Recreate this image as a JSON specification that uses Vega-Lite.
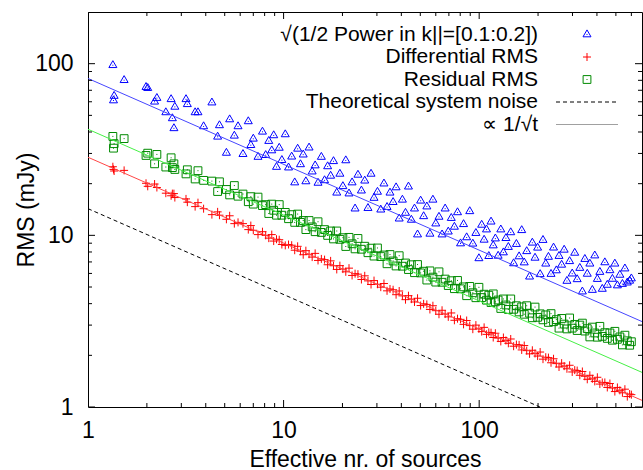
{
  "$schema": "https://vega.github.io/schema/vega-lite/v6.json",
  "width": 554,
  "height": 395,
  "autosize": {"type": "none"},
  "padding": {"left": 88, "top": 12, "right": 1, "bottom": 63},
  "background": "white",
  "config": {
    "view": {"stroke": "black", "strokeWidth": 1},
    "font": "Liberation Sans",
    "axis": {"labelFont": "Liberation Sans", "titleFont": "Liberation Sans", "labelFontSize": 23, "titleFontSize": 23, "titleFontWeight": "normal", "labelColor": "black", "titleColor": "black", "domain": false, "grid": false, "ticks": false},
    "legend": {"title": null, "orient": "none", "legendX": 488.5, "legendY": 12, "labelAlign": "right", "labelOffset": -59.5, "labelFontSize": 21, "labelFont": "Liberation Sans", "labelColor": "black", "labelLimit": 0, "symbolSize": 100, "symbolStrokeWidth": 1, "symbolFillColor": "transparent", "rowPadding": 0.5}
  },
  "datasets": {
    "pts": [
      {"n":1.34,"P":97.9,"D":25.1,"R":37.7},{"n":1.35,"P":61,"D":24.2,"R":32.2},{"n":1.36,"P":64.8,"D":23.7,"R":34.2},{"n":1.53,"P":80.1,"D":23.9,"R":36.6},
      {"n":1.98,"P":73,"D":20.1,"R":29.2},{"n":2.02,"P":72,"D":19.3,"R":30.1},{"n":2.19,"P":60,"D":19.9,"R":26.1},{"n":2.25,"P":63,"D":19.0,"R":29.6},
      {"n":2.5,"P":52,"D":17.6,"R":25.0},{"n":2.66,"P":62,"D":17.0,"R":28.3},{"n":2.7,"P":48,"D":17.5,"R":24.8},{"n":2.75,"P":42,"D":17.5,"R":26.1},
      {"n":2.78,"P":56,"D":16.6,"R":24.2},{"n":3.17,"P":62,"D":16.3,"R":22.8},{"n":3.22,"P":58,"D":15.6,"R":24.1},{"n":3.53,"P":52,"D":14.7,"R":21.3},
      {"n":3.65,"P":52.0,"D":15.5,"R":23.8},{"n":3.9,"P":43.1,"D":14.3,"R":20.9},{"n":4.3,"P":59.3,"D":13.2,"R":20.7},{"n":4.6,"P":37.5,"D":13.7,"R":18.0},
      {"n":4.7,"P":43.7,"D":13.1,"R":20.5},{"n":5.1,"P":30.2,"D":12.4,"R":18.5},{"n":5.3,"P":47.3,"D":13.0,"R":17.2},{"n":5.6,"P":38.0,"D":11.7,"R":19.5},
      {"n":5.85,"P":43.1,"D":11.9,"R":16.9},{"n":6.2,"P":29.7,"D":11.7,"R":17.4},{"n":6.6,"P":46.1,"D":10.8,"R":15.7},{"n":6.8,"P":33.5,"D":11.4,"R":16.8},
      {"n":7.0,"P":36.5,"D":10.7,"R":15.2},{"n":7.4,"P":28.6,"D":10.1,"R":16.7},{"n":7.8,"P":40.1,"D":10.5,"R":14.9},{"n":8.1,"P":29.3,"D":10.0,"R":15.1},
      {"n":8.4,"P":35.4,"D":9.63,"R":13.4},{"n":8.7,"P":31.2,"D":10.1,"R":15.2},{"n":8.9,"P":38.2,"D":9.26,"R":14.0},{"n":9.2,"P":25.0,"D":9.49,"R":13.1},
      {"n":9.5,"P":32.3,"D":9.43,"R":15.1},{"n":9.8,"P":27.4,"D":8.84,"R":13.1},{"n":10.2,"P":38.7,"D":8.74,"R":13.6},{"n":10.6,"P":24.8,"D":8.84,"R":12.5},
      {"n":11.0,"P":28.7,"D":8.76,"R":13.2},{"n":11.4,"P":20.3,"D":8.19,"R":11.9},{"n":11.8,"P":31.9,"D":8.63,"R":13.3},{"n":12.2,"P":25.9,"D":8.08,"R":11.9},
      {"n":12.6,"P":29.5,"D":7.71,"R":12.2},{"n":13.0,"P":20.6,"D":8.14,"R":10.8},{"n":13.5,"P":32.4,"D":7.76,"R":12.2},{"n":14.0,"P":23.5,"D":7.47,"R":11.2},
      {"n":14.5,"P":25.5,"D":7.85,"R":10.5},{"n":15.0,"P":20.2,"D":7.14,"R":12.0},{"n":15.6,"P":28.6,"D":7.29,"R":10.4},{"n":16.2,"P":20.9,"D":7.22,"R":10.8},
      {"n":16.8,"P":25.2,"D":6.74,"R":9.99},{"n":17.4,"P":22.2,"D":7.10,"R":10.6},{"n":18.0,"P":27.0,"D":6.65,"R":9.53},{"n":18.7,"P":17.7,"D":6.33,"R":10.6},
      {"n":19.4,"P":22.8,"D":6.66,"R":9.48},{"n":20.1,"P":19.3,"D":6.36,"R":9.69},{"n":20.8,"P":27.3,"D":6.13,"R":8.61},{"n":21.6,"P":17.5,"D":6.44,"R":9.73},
      {"n":22.4,"P":20.3,"D":5.84,"R":8.93},{"n":23.2,"P":14.3,"D":5.98,"R":8.34},{"n":24.0,"P":22.5,"D":5.94,"R":9.59},{"n":25.0,"P":18.2,"D":5.53,"R":8.30},
      {"n":26.0,"P":20.8,"D":5.81,"R":8.64},{"n":27.0,"P":14.4,"D":5.43,"R":7.92},{"n":28.0,"P":22.8,"D":5.17,"R":8.42},{"n":29.0,"P":16.5,"D":5.45,"R":7.57},
      {"n":30.2,"P":17.9,"D":5.19,"R":8.44},{"n":31.4,"P":14.1,"D":4.99,"R":7.52},{"n":32.6,"P":20.0,"D":5.24,"R":7.68},{"n":33.8,"P":14.6,"D":4.75,"R":6.83},
      {"n":35.0,"P":17.7,"D":4.87,"R":7.73},{"n":36.3,"P":15.6,"D":4.82,"R":7.09},{"n":37.6,"P":19.0,"D":4.51,"R":6.63},{"n":39.0,"P":12.5,"D":4.74,"R":7.61},
      {"n":40.5,"P":16.1,"D":4.44,"R":6.61},{"n":42.0,"P":13.5,"D":4.22,"R":6.90},{"n":43.5,"P":19.2,"D":4.45,"R":6.32},{"n":45.0,"P":12.3,"D":4.25,"R":6.74},
      {"n":46.7,"P":14.3,"D":4.09,"R":6.06},{"n":48.4,"P":10.1,"D":4.30,"R":6.76},{"n":50.2,"P":15.9,"D":3.90,"R":6.04},{"n":52.0,"P":12.9,"D":3.99,"R":6.18},
      {"n":54.0,"P":14.7,"D":3.96,"R":5.49},{"n":56.0,"P":10.2,"D":3.70,"R":6.21},{"n":58.0,"P":16.1,"D":3.89,"R":5.71},{"n":60.0,"P":11.7,"D":3.64,"R":5.34},
      {"n":62.3,"P":12.8,"D":3.47,"R":6.13},{"n":64.6,"P":10.1,"D":3.66,"R":5.33},{"n":67.0,"P":14.3,"D":3.48,"R":5.56},{"n":69.5,"P":10.5,"D":3.35,"R":5.10},
      {"n":72.0,"P":12.6,"D":3.53,"R":5.44},{"n":74.7,"P":11.2,"D":3.20,"R":4.89},{"n":77.5,"P":13.6,"D":3.27,"R":5.46},{"n":80.3,"P":8.96,"D":3.24,"R":4.88},
      {"n":83.2,"P":11.6,"D":3.03,"R":5.01},{"n":86.3,"P":9.72,"D":3.19,"R":4.45},{"n":89.5,"P":13.8,"D":2.98,"R":5.04},{"n":92.8,"P":8.93,"D":2.84,"R":4.63},
      {"n":96.2,"P":10.3,"D":3.00,"R":4.33},{"n":99.7,"P":7.34,"D":2.85,"R":4.98},{"n":103,"P":11.5,"D":2.75,"R":4.34},{"n":106,"P":9.41,"D":2.91,"R":4.54},
      {"n":109,"P":10.8,"D":2.65,"R":4.19},{"n":112,"P":7.56,"D":2.72,"R":4.48},{"n":115,"P":12.0,"D":2.71,"R":4.06},{"n":118,"P":8.72,"D":2.54,"R":4.56},
      {"n":121,"P":9.57,"D":2.69,"R":4.10},{"n":125,"P":7.59,"D":2.52,"R":4.20},{"n":129,"P":10.8,"D":2.41,"R":3.75},{"n":133,"P":7.94,"D":2.54,"R":4.26},
      {"n":137,"P":9.62,"D":2.44,"R":3.93},{"n":141,"P":8.54,"D":2.35,"R":3.70},{"n":145,"P":10.4,"D":2.49,"R":4.26},{"n":150,"P":6.86,"D":2.26,"R":3.71},
      {"n":155,"P":8.89,"D":2.31,"R":3.89},{"n":160,"P":7.53,"D":2.30,"R":3.58},{"n":165,"P":10.7,"D":2.15,"R":3.83},{"n":170,"P":6.94,"D":2.28,"R":3.47},
      {"n":175,"P":8.07,"D":2.13,"R":3.89},{"n":181,"P":5.74,"D":2.04,"R":3.52},{"n":187,"P":9.05,"D":2.14,"R":3.31},{"n":193,"P":7.39,"D":2.05,"R":3.82},
      {"n":199,"P":8.46,"D":1.98,"R":3.33},{"n":205,"P":5.93,"D":2.09,"R":3.49},{"n":212,"P":9.38,"D":1.90,"R":3.22},{"n":219,"P":6.83,"D":1.95,"R":3.44},
      {"n":226,"P":7.48,"D":1.94,"R":3.11},{"n":233,"P":5.95,"D":1.81,"R":3.50},{"n":240,"P":8.47,"D":1.91,"R":3.14},{"n":248,"P":6.24,"D":1.79,"R":3.23},
      {"n":256,"P":7.57,"D":1.71,"R":2.88},{"n":264,"P":6.73,"D":1.80,"R":3.28},{"n":272,"P":8.23,"D":1.73,"R":3.04},{"n":281,"P":5.42,"D":1.67,"R":2.85},
      {"n":290,"P":7.06,"D":1.75,"R":3.30},{"n":299,"P":5.98,"D":1.60,"R":2.88},{"n":308,"P":7.9,"D":1.64,"R":3.03},{"n":317,"P":5.54,"D":1.63,"R":2.79},
      {"n":327,"P":6.45,"D":1.53,"R":3.00},{"n":337,"P":4.7,"D":1.61,"R":3.08},{"n":347,"P":7.27,"D":1.51,"R":2.77},{"n":357,"P":5.96,"D":1.45,"R":2.86},
      {"n":368,"P":6.83,"D":1.53,"R":2.56},{"n":379,"P":4.80,"D":1.46,"R":2.92},{"n":390,"P":7.62,"D":1.41,"R":2.70},{"n":402,"P":5.56,"D":1.49,"R":2.55},
      {"n":414,"P":6.11,"D":1.36,"R":2.95},{"n":426,"P":4.87,"D":1.39,"R":2.58},{"n":439,"P":6.95,"D":1.39,"R":2.71},{"n":452,"P":5.14,"D":1.30,"R":2.51},
      {"n":466,"P":6.25,"D":1.37,"R":2.70},{"n":480,"P":5.57,"D":1.29,"R":2.45},{"n":494,"P":6.83,"D":1.23,"R":2.76},{"n":509,"P":5.1,"D":1.30,"R":2.48},
      {"n":524,"P":5.88,"D":1.25,"R":2.56},{"n":540,"P":5.2,"D":1.21,"R":2.30},{"n":556,"P":6.4,"D":1.27,"R":2.62},{"n":572,"P":5.3,"D":1.15,"R":2.43},
      {"n":588,"P":5.43,"D":1.19,"R":2.29},{"n":600,"P":5.6,"D":1.18,"R":2.40}
    ],
    "fits": [
      {"k":"P","n":1,"rms":82},{"k":"P","n":680,"rms":3.145},
      {"k":"D","n":1,"rms":28.5},{"k":"D","n":680,"rms":1.093},
      {"k":"R","n":1,"rms":41.5},{"k":"R","n":680,"rms":1.591},
      {"k":"T","n":1,"rms":14.3},{"k":"T","n":204.5,"rms":1}
    ],
    "xt": [
      {"v":1,"m":1},{"v":2,"m":0},{"v":3,"m":0},{"v":4,"m":0},{"v":5,"m":0},{"v":6,"m":0},{"v":7,"m":0},{"v":8,"m":0},{"v":9,"m":0},
      {"v":10,"m":1},{"v":20,"m":0},{"v":30,"m":0},{"v":40,"m":0},{"v":50,"m":0},{"v":60,"m":0},{"v":70,"m":0},{"v":80,"m":0},{"v":90,"m":0},
      {"v":100,"m":1},{"v":200,"m":0},{"v":300,"m":0},{"v":400,"m":0},{"v":500,"m":0},{"v":600,"m":0}
    ],
    "yt": [
      {"v":1,"m":1},{"v":2,"m":0},{"v":3,"m":0},{"v":4,"m":0},{"v":5,"m":0},{"v":6,"m":0},{"v":7,"m":0},{"v":8,"m":0},{"v":9,"m":0},
      {"v":10,"m":1},{"v":20,"m":0},{"v":30,"m":0},{"v":40,"m":0},{"v":50,"m":0},{"v":60,"m":0},{"v":70,"m":0},{"v":80,"m":0},{"v":90,"m":0},
      {"v":100,"m":1},{"v":200,"m":0}
    ]
  },
  "layer": [
    {
      "data": {"name": "pts"},
      "transform": [{"fold": ["P", "D", "R"], "as": ["k", "rms"]}],
      "mark": {"type": "point", "filled": false, "opacity": 1, "strokeWidth": 1, "size": 100},
      "encoding": {
        "x": {"field": "n", "type": "quantitative", "scale": {"type": "log", "domain": [1, 680], "nice": false},
              "axis": {"orient": "bottom", "values": [1, 10, 100], "format": "d", "labelPadding": 12, "labelFlush": false, "title": "Effective nr. of sources", "titlePadding": 6}},
        "y": {"field": "rms", "type": "quantitative", "scale": {"type": "log", "domain": [1, 200], "nice": false},
              "axis": {"orient": "left", "values": [1, 10, 100], "format": "d", "labelPadding": 15, "labelFlush": false, "title": "RMS (mJy)", "titlePadding": -4}},
        "color": {"field": "k", "type": "nominal",
                  "scale": {"domain": ["P", "D", "R", "T", "F"], "range": ["#0000ff", "#ff0000", "#008a00", "#000000", "#a0a0a0"]},
                  "legend": {"labelExpr": "datum.value=='P'?'√(1/2 Power in k||=[0.1:0.2])':datum.value=='D'?'Differential RMS':datum.value=='R'?'Residual RMS':datum.value=='T'?'Theoretical system noise':'∝ 1/√t'"}},
        "shape": {"field": "k", "type": "nominal",
                  "scale": {"domain": ["P", "D", "R", "T", "F"],
                            "range": ["M0,-0.92L0.8,0.46L-0.8,0.46ZM-0.1,0L0.1,0",
                                      "M-0.8,0L0.8,0M0,-0.8L0,0.8",
                                      "M-0.78,-0.78L0.78,-0.78L0.78,0.78L-0.78,0.78ZM-0.1,0L0.1,0",
                                      "M-6.2,0L-5.4,0M-4.8,0L-4,0M-3.4,0L-2.6,0M-2,0L-1.2,0M-0.6,0L0.2,0M0.8,0L1.6,0M2.2,0L3,0M3.6,0L4.4,0M5,0L5.8,0",
                                      "M-6.2,0L6.2,0"]},
                  "legend": {"labelExpr": "datum.value=='P'?'√(1/2 Power in k||=[0.1:0.2])':datum.value=='D'?'Differential RMS':datum.value=='R'?'Residual RMS':datum.value=='T'?'Theoretical system noise':'∝ 1/√t'"}}
      }
    },
    {
      "data": {"name": "fits"},
      "transform": [{"filter": "datum.k==='T'"}],
      "mark": {"type": "line", "strokeWidth": 1, "strokeDash": [4, 3]},
      "encoding": {
        "x": {"field": "n", "type": "quantitative", "axis": null},
        "y": {"field": "rms", "type": "quantitative", "axis": null},
        "color": {"field": "k", "type": "nominal"}
      }
    },
    {
      "data": {"name": "fits"},
      "transform": [{"filter": "datum.k!=='T'"}],
      "mark": {"type": "line", "strokeWidth": 1},
      "encoding": {
        "x": {"field": "n", "type": "quantitative", "axis": null},
        "y": {"field": "rms", "type": "quantitative", "axis": null},
        "stroke": {"field": "k", "type": "nominal", "scale": {"domain": ["P", "D", "R"], "range": ["#4646ff", "#ff4646", "#46f046"]}, "legend": null}
      }
    },
    {
      "data": {"name": "xt"},
      "mark": {"type": "tick", "orient": "vertical", "thickness": 1, "color": "black", "opacity": 1, "clip": true},
      "encoding": {
        "x": {"field": "v", "type": "quantitative", "axis": null},
        "y": {"datum": 1, "type": "quantitative", "axis": null},
        "size": {"condition": {"test": "datum.m==1", "value": 14}, "value": 8}
      }
    },
    {
      "data": {"name": "xt"},
      "mark": {"type": "tick", "orient": "vertical", "thickness": 1, "color": "black", "opacity": 1, "clip": true},
      "encoding": {
        "x": {"field": "v", "type": "quantitative", "axis": null},
        "y": {"datum": 200, "type": "quantitative", "axis": null},
        "size": {"condition": {"test": "datum.m==1", "value": 14}, "value": 8}
      }
    },
    {
      "data": {"name": "yt"},
      "mark": {"type": "tick", "orient": "horizontal", "thickness": 1, "color": "black", "opacity": 1, "clip": true},
      "encoding": {
        "y": {"field": "v", "type": "quantitative", "axis": null},
        "x": {"datum": 1, "type": "quantitative", "axis": null},
        "size": {"condition": {"test": "datum.m==1", "value": 14}, "value": 8}
      }
    },
    {
      "data": {"name": "yt"},
      "mark": {"type": "tick", "orient": "horizontal", "thickness": 1, "color": "black", "opacity": 1, "clip": true},
      "encoding": {
        "y": {"field": "v", "type": "quantitative", "axis": null},
        "x": {"datum": 680, "type": "quantitative", "axis": null},
        "size": {"condition": {"test": "datum.m==1", "value": 14}, "value": 8}
      }
    }
  ],
  "resolve": {"axis": {"x": "independent", "y": "independent"}}
}
